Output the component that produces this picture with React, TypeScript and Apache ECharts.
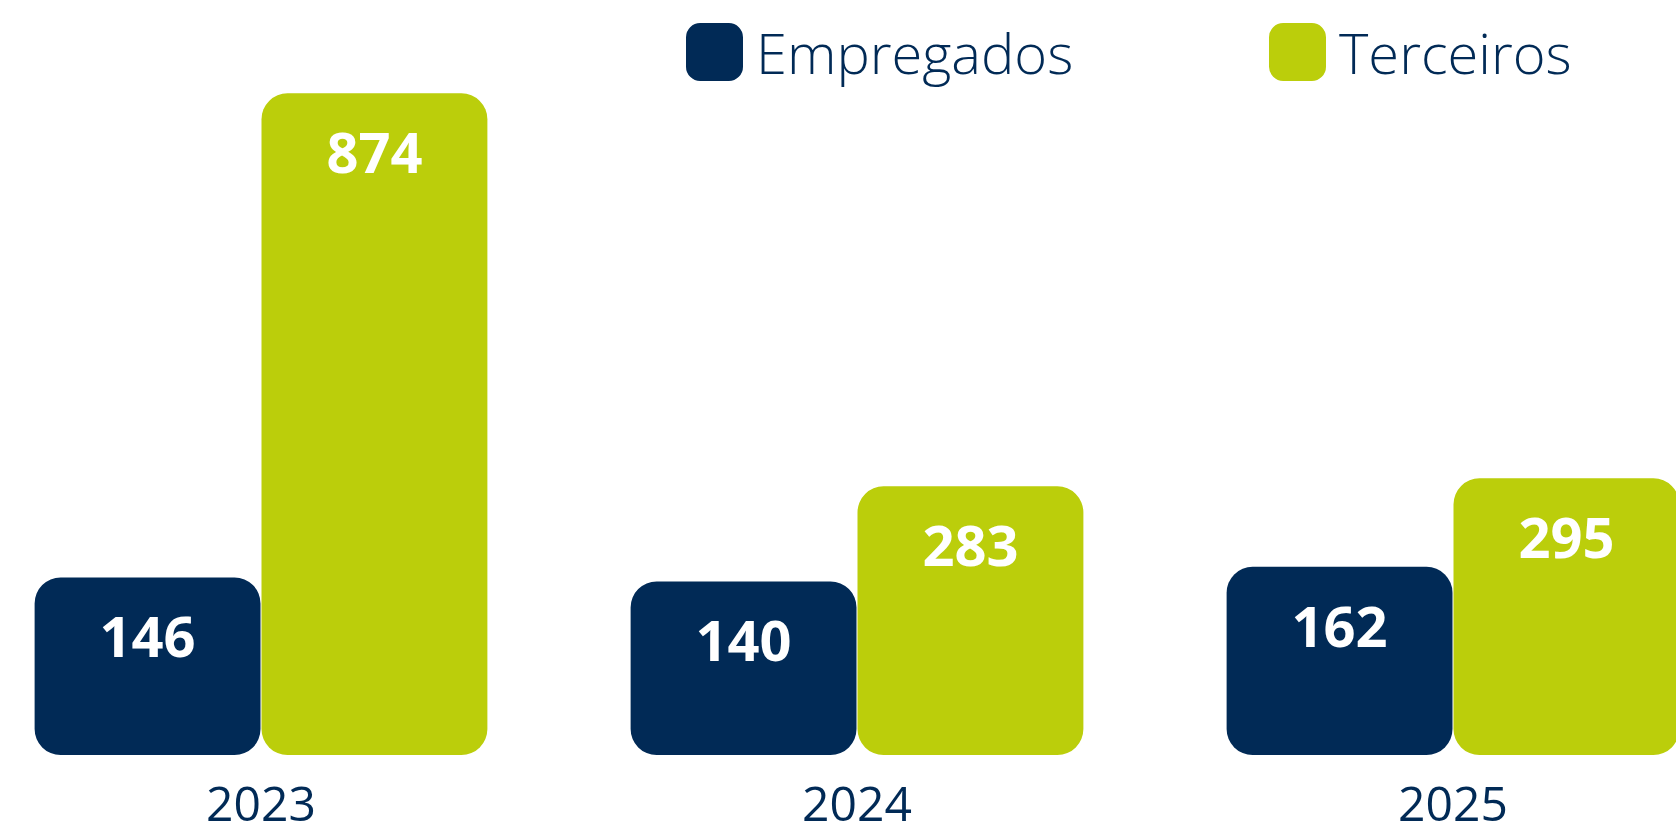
import React, { useEffect, useRef } from "react";
import * as echarts from "echarts";

const categories = ["2023", "2024", "2025"];
const seriesNames = ["Empregados", "Terceiros"];
const empregados = [146, 140, 162];
const terceiros = [874, 283, 295];

const NAVY = "#012a56";
const GREEN = "#bbce0b";
const Y_MIN = -121;
const Y_MAX = 900;
const FONT = '"Open Sans", "Noto Sans", sans-serif';

function makeRender(side: number, color: string) {
  return (params: any, api: any) => {
    const idx = api.value(0);
    const val = api.value(1);
    const top = api.coord([idx, val]);
    const bottom = api.coord([idx, Y_MIN]);
    const band = api.size([1, 0])[0];
    const w = band * 0.379;
    const x = side === 0 ? top[0] - w - 0.5 : top[0] + 0.5;
    return {
      type: "group",
      children: [
        {
          type: "rect",
          shape: { x, y: top[1], width: w, height: bottom[1] - top[1], r: 26 },
          style: { fill: color },
        },
        {
          type: "text",
          style: {
            text: String(val),
            x: x + w / 2,
            y: top[1] + 58,
            fill: "#ffffff",
            fontSize: 56,
            fontWeight: 700,
            fontFamily: FONT,
            align: "center",
            verticalAlign: "middle",
          },
        },
      ],
    };
  };
}

export default function App() {
  const ref = useRef<HTMLDivElement>(null);
  useEffect(() => {
    if (!ref.current) return;
    const chart = echarts.init(ref.current, null, { renderer: "svg" });
    const legendText = {
      color: NAVY,
      fontSize: 56,
      fontWeight: 300,
      fontFamily: FONT,
      padding: [0, 0, 0, 8],
    };
    chart.setOption({
      animation: false,
      color: [NAVY, GREEN],
      legend: [
        {
          data: [seriesNames[0]],
          left: 686,
          top: 23,
          itemWidth: 57,
          itemHeight: 58,
          icon: "roundRect",
          selectedMode: false,
          textStyle: legendText,
          padding: 0,
        },
        {
          data: [seriesNames[1]],
          left: 1269,
          top: 23,
          itemWidth: 57,
          itemHeight: 58,
          icon: "roundRect",
          selectedMode: false,
          textStyle: legendText,
          padding: 0,
        },
      ],
      grid: {
        left: -37,
        right: -75,
        top: 76,
        bottom: 78,
        containLabel: false,
        outerBoundsMode: "none",
      },
      xAxis: {
        type: "category",
        data: categories,
        axisLine: { show: false },
        axisTick: { show: false },
        splitLine: { show: false },
        axisLabel: {
          color: NAVY,
          fontSize: 48,
          lineHeight: 40,
          fontWeight: 400,
          fontFamily: FONT,
          margin: 27,
        },
      },
      yAxis: {
        type: "value",
        min: Y_MIN,
        max: Y_MAX,
        show: false,
        splitLine: { show: false },
      },
      series: [
        {
          name: seriesNames[0],
          type: "custom",
          itemStyle: { color: NAVY },
          encode: { x: 0, y: 1 },
          data: empregados.map((v, i) => [i, v]),
          renderItem: makeRender(0, NAVY),
        },
        {
          name: seriesNames[1],
          type: "custom",
          itemStyle: { color: GREEN },
          encode: { x: 0, y: 1 },
          data: terceiros.map((v, i) => [i, v]),
          renderItem: makeRender(1, GREEN),
        },
      ],
    });
    return () => chart.dispose();
  }, []);
  return (
    <div
      ref={ref}
      style={{ position: "fixed", left: 0, top: 0, width: 1676, height: 833 }}
    />
  );
}
